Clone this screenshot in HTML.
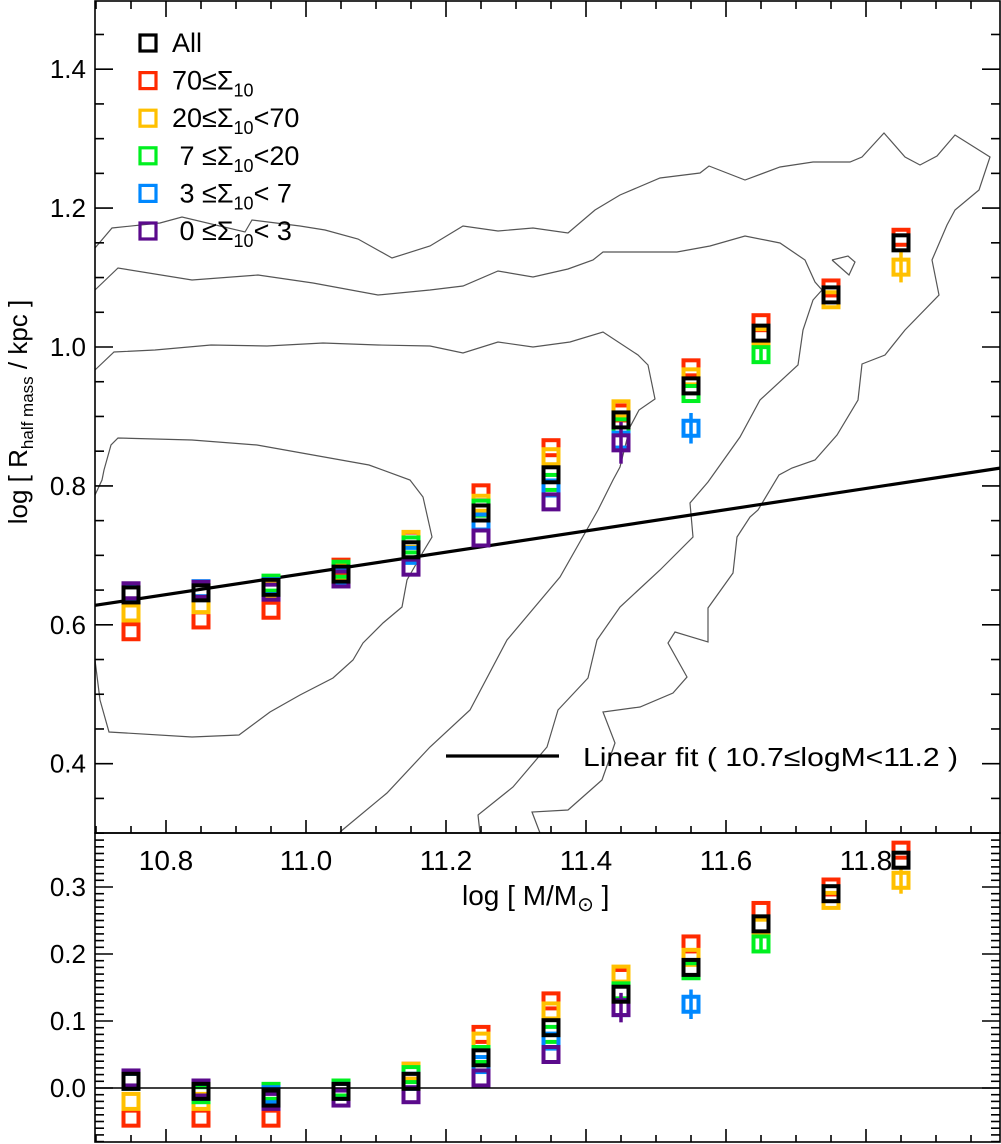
<!DOCTYPE html>
<html><head><meta charset="utf-8"><style>
html,body{margin:0;padding:0;background:#fff;}
svg{display:block;font-family:"Liberation Sans",Arial,sans-serif;}
</style></head><body>
<svg id="chart" width="1001" height="1144" viewBox="0 0 1001 1144" xmlns="http://www.w3.org/2000/svg">
<rect x="0" y="0" width="1001" height="1144" fill="#fff"/>
<g id="contours" fill="none" stroke="#555" stroke-width="1.2"></g>
<g id="fit"></g>
<g id="marks"></g>
<g id="axes" stroke="#000" stroke-width="1.6" fill="none"></g>
<g id="labels" font-size="26" fill="#000"></g>
<g id="legend"></g>
</svg>
<script>
// ---- data ----
const masses = [10.75,10.85,10.95,11.05,11.15,11.25,11.35,11.45,11.55,11.65,11.75,11.85];
const seriesNames = ['red','yellow','green','blue','purple','all'];
const topRed    = [0.590,0.607,0.621,0.683,0.722,0.790,0.855,0.905,0.970,1.035,1.085,1.158];
const topYellow = [0.617,0.629,0.652,0.678,0.723,0.775,0.842,0.911,0.957,1.015,1.068,1.115];
const topGreen  = [0.645,0.650,0.660,0.680,0.715,0.768,0.805,0.885,0.933,0.989,null,null];
const topBlue   = [0.648,0.652,0.655,0.668,0.700,0.748,0.797,0.866,0.883,null,null,null];
const topPurple = [0.649,0.651,0.647,0.666,0.683,0.725,0.777,0.862,null,null,null,null];
const topAll    = [0.643,0.646,0.654,0.673,0.708,0.761,0.816,0.895,0.944,1.020,1.075,1.150];
const botRed    = [-0.045,-0.045,-0.045,0.0,0.025,0.080,0.130,0.165,0.215,0.265,0.300,0.355];
const botYellow = [-0.020,-0.020,-0.015,-0.005,0.025,0.070,0.115,0.170,0.195,0.240,0.280,0.310];
const botGreen  = [0.010,-0.010,-0.005,0.0,0.020,0.050,0.080,0.145,0.175,0.215,null,null];
const botBlue   = [0.010,-0.005,-0.010,-0.005,0.010,0.035,0.070,0.120,0.125,null,null,null];
const botPurple = [0.015,0.0,-0.020,-0.015,-0.010,0.015,0.050,0.120,null,null,null,null];
const botAll    = [0.010,-0.005,-0.015,-0.005,0.010,0.045,0.090,0.140,0.180,0.245,0.290,0.340];
const errTopYellow = [0,0,0,0,0,0,0,0,0,0,0,0.022];
const errTopGreen  = [0,0,0,0,0,0,0,0,0,0.010,0,0];
const errTopBlue   = [0,0,0,0,0,0,0,0,0.022,0,0,0];
const errTopPurple = [0,0,0,0,0,0,0,0.030,0,0,0,0];
const errBotYellow = [0,0,0,0,0,0,0,0,0,0,0,0.020];
const errBotGreen  = [0,0,0,0,0,0,0,0,0,0.010,0,0];
const errBotBlue   = [0,0,0,0,0,0,0,0,0.022,0,0,0];
const errBotPurple = [0,0,0,0,0,0,0,0.022,0,0,0,0];
const fitIntercept = 0.628; // value at logM = 10.7
const fitSlope = 0.153;
const xTickLabels = ['10.8','11.0','11.2','11.4','11.6','11.8'];
const yTopTickLabels = ['0.4','0.6','0.8','1.0','1.2','1.4'];
const yBotTickLabels = ['0.0','0.1','0.2','0.3'];
const legendLabels = ['All','70≤Σ|10|','20≤Σ|10|<70',' 7 ≤Σ|10|<20',' 3 ≤Σ|10|< 7',' 0 ≤Σ|10|< 3'];

// ---- scales ----
const X0=95, X1=1000, TOP0=0, TOP1=833, BOT0=833, BOT1=1142;
const x = m => 446 + (m-11.2)*700;
const yT = v => 347 + (1.0-v)*694.5;
const yB = v => 1088 - v*670;
const colors = {red:'#ff2a00',yellow:'#ffc000',green:'#00f020',blue:'#0088ff',purple:'#5b0a8c',all:'#000'};
const topData = {red:topRed,yellow:topYellow,green:topGreen,blue:topBlue,purple:topPurple,all:topAll};
const botData = {red:botRed,yellow:botYellow,green:botGreen,blue:botBlue,purple:botPurple,all:botAll};
const topErr = {yellow:errTopYellow,green:errTopGreen,blue:errTopBlue,purple:errTopPurple};
const botErr = {yellow:errBotYellow,green:errBotGreen,blue:errBotBlue,purple:errBotPurple};

const NS='http://www.w3.org/2000/svg';
function mk(tag, parent, attrs){const e=document.createElementNS(NS,tag);for(const k in attrs)e.setAttribute(k,attrs[k]);parent.appendChild(e);return e;}

// ---- contours (pixel traces of background density) ----
const contourInner=[[95,660],[100,700],[109,732],[192,737],[239,735],[270,712],[300,695],[333,678],[353,660],[363,643],[383,623],[402,607],[407,580],[423,552],[432,537],[423,497],[410,480],[369,465],[313,455],[257,445],[192,440],[118,438],[111,445],[104,470],[102,480],[95,495]];
const contourMid=[[95,370],[114,352],[155,350],[211,345],[267,346],[323,343],[378,345],[430,346],[463,353],[498,342],[533,347],[570,342],[603,332],[638,355],[648,365],[655,399],[639,410],[630,427],[620,467],[613,480],[598,510],[560,577],[507,640],[470,710],[430,747],[387,793],[340,832]];
const contourC=[[95,290],[118,268],[192,280],[258,275],[313,283],[378,295],[430,290],[463,286],[498,271],[533,277],[568,269],[593,260],[603,252],[677,252],[710,246],[745,236],[780,243],[805,260],[815,282],[822,290],[813,300],[803,330],[798,365],[760,400],[740,437],[708,482],[690,503],[693,537],[660,570],[620,607],[597,640],[588,678],[558,710],[547,747],[513,787],[478,815],[480,833]];
const contourD=[[95,248],[112,228],[160,223],[182,217],[245,232],[252,220],[300,226],[325,230],[358,239],[392,258],[430,246],[463,226],[498,231],[533,228],[568,233],[595,210],[620,195],[660,178],[700,173],[709,166],[745,180],[780,167],[813,162],[850,162],[862,157],[884,133],[905,157],[920,165],[937,156],[955,135],[990,157],[979,190],[955,210],[947,225],[932,260],[939,295],[905,330],[885,355],[862,364],[858,400],[837,435],[815,460],[792,468],[779,475],[758,510],[750,517],[737,537],[733,573],[708,608],[708,642],[675,632],[668,643],[687,677],[673,693],[640,707],[603,712],[615,743],[602,780],[568,810],[532,812],[540,833]];
const contourLoop=[[832,260],[848,256],[855,262],[849,275],[832,260]];
const cg=document.getElementById('contours');
[contourInner,contourMid,contourC,contourD,contourLoop].forEach((c,i)=>{
  const p=mk('polyline',cg,{points:c.map(q=>q.join(',')).join(' ')});
  
  
});

// ---- fit line ----
const fg=document.getElementById('fit');
const fitY = m => fitIntercept + fitSlope*(m-10.7);
const fl=mk('line',fg,{x1:X0,y1:yT(fitY(10.7)),x2:X1,y2:yT(fitY(11.9914)),stroke:'#000','stroke-width':3.2});



// ---- markers ----
const mg=document.getElementById('marks');
function drawPanel(data, errs, yf, panel){
  seriesNames.forEach(s=>{
    const vals=data[s];
    masses.forEach((m,i)=>{
      const v=vals[i]; if(v===null||v===undefined) return;
      const e=errs[s]?errs[s][i]:0;
      if(e>0){
        const eb=mk('line',mg,{x1:x(m),x2:x(m),y1:yf(v-e),y2:yf(v+e),stroke:colors[s],'stroke-width':3.5});
        
        
      }
      const r=mk('rect',mg,{x:x(m)-7.5,y:yf(v)-7.5,width:15,height:15,fill:'none',stroke:colors[s],'stroke-width':4});
      
      
    });
  });
}
drawPanel(topData, topErr, yT, 'top');
drawPanel(botData, botErr, yB, 'bottom');

// ---- axes ----
const ag=document.getElementById('axes');
const fr1=mk('rect',ag,{x:X0,y:1,width:X1-X0,height:TOP1-1});


const fr2=mk('rect',ag,{x:X0,y:BOT0,width:X1-X0,height:BOT1-BOT0});


const zl=mk('line',ag,{x1:X0,x2:X1,y1:yB(0),y2:yB(0),'stroke-width':1.5});


function tick(x1,y1,x2,y2){const t=mk('line',ag,{x1,y1,x2,y2});
  
  }
for(let k=0;k<=26;k++){ const m=10.7+k*0.05; const px=x(m); if(px<X0||px>X1) continue;
  const major = k%4===2; const L1=major?16:8, L2=major?13:7;
  tick(px,1,px,1+L1); tick(px,TOP1,px,TOP1-L2); tick(px,BOT1,px,BOT1-L2);}
for(let k=0;k<=24;k++){ const v=0.3+k*0.05; const py=yT(v); if(py<0) continue;
  const major=k%4===2; const L=major?18:9;
  tick(X0,py,X0+L,py); tick(X1,py,X1-L,py);}
for(let k=-8;k<=37;k++){ const v=k*0.01; const py=yB(v); if(py>BOT1||py<BOT0) continue;
  const major=k%10===0; const L=major?18:9;
  tick(X0,py,X0+L,py); tick(X1,py,X1-L,py);}

// ---- labels ----
const lg=document.getElementById('labels');
xTickLabels.forEach(s=>{const t=mk('text',lg,{x:x(parseFloat(s)),y:870,'text-anchor':'middle','font-size':28});t.textContent=s;
  
  });
yTopTickLabels.forEach(s=>{const t=mk('text',lg,{x:86,y:yT(parseFloat(s))+9,'text-anchor':'end'});t.textContent=s;
  
  });
yBotTickLabels.forEach(s=>{const t=mk('text',lg,{x:86,y:yB(parseFloat(s))+9,'text-anchor':'end'});t.textContent=s;
  
  });
const xt=mk('text',lg,{x:462,y:905,'font-size':28});
xt.innerHTML='log [ M/M<tspan font-size="20" dy="6">⊙</tspan><tspan dy="-6"> ]</tspan>';


const yt=mk('text',lg,{x:0,y:0,transform:'translate(27,412) rotate(-90)','text-anchor':'middle'});
yt.innerHTML='log [ R<tspan font-size="17" dy="6">half mass</tspan><tspan dy="-6"> / kpc ]</tspan>';


const ft=mk('text',lg,{x:583,y:766,textLength:375,lengthAdjust:'spacingAndGlyphs'});
ft.textContent='Linear fit ( 10.7≤logM<11.2 )';


const fll=mk('line',lg,{x1:446,x2:559,y1:756,y2:756,stroke:'#000','stroke-width':3.2});



// ---- legend ----
const leg=document.getElementById('legend');
const legColors=['all','red','yellow','green','blue','purple'];
legendLabels.forEach((s,i)=>{
  const cy=43+i*37.6;
  const r=mk('rect',leg,{x:140,y:cy-8,width:16,height:16,fill:'none',stroke:colors[legColors[i]],'stroke-width':3.2});
  
  
  const t=mk('text',leg,{x:172,y:cy+9,'font-size':27});
  t.setAttribute('style','white-space:pre');
  const parts=s.split('|');
  let html=parts[0].replace(/</g,'&lt;');
  if(parts.length>1){html+='<tspan font-size="18" dy="7">'+parts[1]+'</tspan><tspan dy="-7">'+parts[2].replace(/</g,'&lt;')+'</tspan>';}
  t.innerHTML=html;
  
  
});
</script>
</body></html>
